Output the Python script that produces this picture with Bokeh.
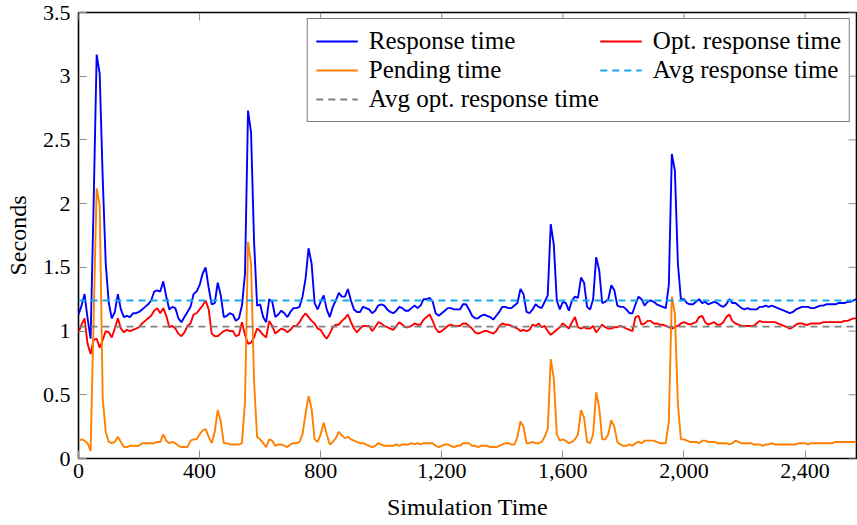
import math
from bokeh.plotting import figure
from bokeh.models import Range1d, FixedTicker, NumeralTickFormatter, Legend, LegendItem
from bokeh.embed import file_html
from bokeh.resources import INLINE

# ---------------- data ----------------
sim_time = list(range(0, 2580, 10))

response_time = [
    1.13, 1.20, 1.29, 1.10, 0.94, 2.00, 3.17, 3.02, 2.20, 1.53,
    1.22, 1.10, 1.15, 1.29, 1.17, 1.11, 1.12, 1.11, 1.14, 1.14,
    1.15, 1.17, 1.19, 1.21, 1.24, 1.31, 1.32, 1.31, 1.39, 1.27,
    1.17, 1.19, 1.18, 1.10, 1.07, 1.11, 1.15, 1.19, 1.29, 1.31,
    1.36, 1.45, 1.50, 1.34, 1.21, 1.22, 1.38, 1.28, 1.11, 1.12,
    1.14, 1.13, 1.08, 1.10, 1.20, 1.45, 2.73, 2.56, 1.70, 1.20,
    1.21, 1.11, 1.07, 1.25, 1.23, 1.11, 1.13, 1.16, 1.14, 1.11,
    1.15, 1.18, 1.18, 1.19, 1.27, 1.41, 1.65, 1.53, 1.22, 1.17,
    1.23, 1.28, 1.17, 1.11, 1.19, 1.24, 1.30, 1.27, 1.27, 1.33,
    1.24, 1.17, 1.15, 1.15, 1.19, 1.18, 1.17, 1.14, 1.16, 1.20,
    1.21, 1.20, 1.17, 1.15, 1.14, 1.16, 1.19, 1.18, 1.16, 1.16,
    1.18, 1.20, 1.18, 1.20, 1.25, 1.25, 1.26, 1.23, 1.14, 1.12,
    1.14, 1.16, 1.18, 1.18, 1.17, 1.17, 1.17, 1.21, 1.21, 1.17,
    1.12, 1.10, 1.10, 1.12, 1.13, 1.12, 1.11, 1.09, 1.12, 1.15,
    1.19, 1.19, 1.18, 1.18, 1.20, 1.22, 1.33, 1.29, 1.15, 1.14,
    1.17, 1.21, 1.19, 1.18, 1.23, 1.28, 1.84, 1.68, 1.24, 1.17,
    1.23, 1.22, 1.16, 1.24, 1.27, 1.26, 1.42, 1.38, 1.19, 1.17,
    1.25, 1.58, 1.48, 1.22, 1.23, 1.25, 1.36, 1.32, 1.20, 1.19,
    1.19, 1.17, 1.14, 1.14, 1.21, 1.27, 1.25, 1.20, 1.23, 1.24,
    1.23, 1.21, 1.20, 1.19, 1.18, 1.36, 2.39, 2.26, 1.53, 1.25,
    1.25, 1.22, 1.21, 1.21, 1.23, 1.25, 1.22, 1.23, 1.21, 1.22,
    1.23, 1.22, 1.20, 1.19, 1.21, 1.25, 1.22, 1.22, 1.20, 1.18,
    1.17, 1.18, 1.17, 1.17, 1.17, 1.19, 1.19, 1.20, 1.19, 1.20,
    1.19, 1.18, 1.17, 1.16, 1.15, 1.14, 1.15, 1.17, 1.18, 1.19,
    1.19, 1.19, 1.18, 1.18, 1.19, 1.20, 1.20, 1.21, 1.21, 1.21,
    1.21, 1.22, 1.22, 1.22, 1.23, 1.23, 1.24, 1.25,
]

opt_response_time = [
    0.99, 1.05, 1.10, 0.90, 0.82, 0.93, 0.94, 0.87, 0.93, 1.00,
    0.99, 0.95, 1.02, 1.10, 1.02, 0.99, 1.01, 1.00, 1.01, 1.02,
    1.03, 1.06, 1.08, 1.10, 1.12, 1.16, 1.18, 1.14, 1.18, 1.12,
    1.03, 1.04, 1.02, 0.98, 0.96, 0.99, 1.04, 1.06, 1.13, 1.14,
    1.17, 1.20, 1.24, 1.17, 0.98, 0.96, 0.96, 0.98, 1.00, 1.01,
    1.00, 1.00, 0.96, 0.97, 1.07, 0.97, 0.90, 0.91, 0.95, 1.02,
    1.00, 0.97, 0.95, 1.08, 1.04, 0.98, 1.00, 1.02, 1.01, 0.99,
    1.01, 1.04, 1.04, 1.07, 1.11, 1.14, 1.11, 1.08, 1.06, 1.02,
    1.01, 0.97, 0.94, 0.98, 1.03, 1.05, 1.05, 1.08, 1.10, 1.13,
    1.07, 1.02, 0.99, 1.02, 1.04, 1.04, 1.04, 1.00, 1.03, 1.07,
    1.06, 1.04, 1.03, 1.02, 1.01, 1.04, 1.07, 1.05, 1.03, 1.03,
    1.04, 1.06, 1.05, 1.05, 1.09, 1.11, 1.13, 1.08, 1.02, 0.99,
    1.00, 1.02, 1.04, 1.05, 1.04, 1.04, 1.04, 1.06, 1.06, 1.04,
    1.02, 0.99, 0.98, 0.99, 1.00, 1.00, 0.99, 0.98, 1.00, 1.04,
    1.06, 1.05, 1.05, 1.04, 1.03, 1.02, 1.00, 1.01, 1.00, 1.01,
    1.05, 1.04, 1.06, 1.03, 1.04, 1.00, 0.97, 0.99, 1.01, 1.03,
    1.06, 1.04, 1.02, 1.07, 1.11, 1.03, 1.02, 1.03, 1.02, 1.02,
    1.04, 0.99, 1.02, 1.05, 1.03, 1.02, 1.02, 1.03, 1.03, 1.04,
    1.03, 1.02, 1.01, 1.00, 1.11, 1.12, 1.05, 1.06, 1.08, 1.08,
    1.06, 1.06, 1.05, 1.05, 1.04, 1.03, 1.02, 1.03, 1.04, 1.06,
    1.07, 1.06, 1.05, 1.06, 1.07, 1.11, 1.12, 1.07, 1.05, 1.06,
    1.07, 1.05, 1.05, 1.07, 1.11, 1.13, 1.08, 1.06, 1.05, 1.04,
    1.04, 1.04, 1.04, 1.04, 1.06, 1.08, 1.07, 1.07, 1.07, 1.07,
    1.07, 1.06, 1.05, 1.04, 1.03, 1.02, 1.03, 1.05, 1.06, 1.06,
    1.05, 1.05, 1.06, 1.06, 1.06, 1.06, 1.07, 1.07, 1.07, 1.07,
    1.07, 1.07, 1.07, 1.08, 1.08, 1.09, 1.10, 1.10,
]

pending_time = [
    0.14, 0.15, 0.14, 0.12, 0.06, 1.10, 2.12, 1.99, 0.47, 0.21,
    0.13, 0.12, 0.13, 0.17, 0.13, 0.09, 0.09, 0.10, 0.10, 0.10,
    0.10, 0.12, 0.12, 0.12, 0.12, 0.12, 0.13, 0.13, 0.19, 0.14,
    0.12, 0.13, 0.12, 0.10, 0.09, 0.09, 0.09, 0.14, 0.15, 0.15,
    0.19, 0.22, 0.23, 0.17, 0.12, 0.21, 0.38, 0.29, 0.12, 0.12,
    0.11, 0.11, 0.11, 0.11, 0.12, 0.45, 1.70, 1.53, 0.60, 0.17,
    0.15, 0.12, 0.09, 0.15, 0.14, 0.10, 0.11, 0.11, 0.10, 0.09,
    0.11, 0.12, 0.12, 0.13, 0.19, 0.35, 0.49, 0.39, 0.15, 0.13,
    0.19, 0.28, 0.19, 0.11, 0.13, 0.16, 0.21, 0.18, 0.16, 0.17,
    0.15, 0.14, 0.13, 0.12, 0.12, 0.11, 0.10, 0.09, 0.10, 0.12,
    0.11, 0.10, 0.10, 0.10, 0.10, 0.11, 0.10, 0.11, 0.11, 0.11,
    0.12, 0.11, 0.12, 0.11, 0.12, 0.12, 0.12, 0.12, 0.10, 0.09,
    0.10, 0.11, 0.11, 0.10, 0.09, 0.10, 0.10, 0.12, 0.12, 0.12,
    0.10, 0.10, 0.09, 0.10, 0.10, 0.10, 0.09, 0.09, 0.09, 0.10,
    0.11, 0.12, 0.12, 0.11, 0.11, 0.17, 0.29, 0.25, 0.12, 0.12,
    0.13, 0.12, 0.12, 0.13, 0.17, 0.23, 0.78, 0.63, 0.19, 0.14,
    0.15, 0.14, 0.12, 0.13, 0.15, 0.19, 0.38, 0.32, 0.13, 0.12,
    0.19, 0.52, 0.40, 0.15, 0.15, 0.19, 0.30, 0.25, 0.13, 0.11,
    0.10, 0.10, 0.11, 0.10, 0.12, 0.13, 0.12, 0.14, 0.14, 0.14,
    0.14, 0.13, 0.12, 0.12, 0.12, 0.29, 1.27, 1.14, 0.43, 0.15,
    0.15, 0.14, 0.13, 0.13, 0.13, 0.12, 0.14, 0.14, 0.13, 0.13,
    0.13, 0.12, 0.12, 0.12, 0.12, 0.11, 0.12, 0.14, 0.13, 0.12,
    0.12, 0.12, 0.12, 0.11, 0.11, 0.11, 0.10, 0.11, 0.11, 0.12,
    0.11, 0.11, 0.11, 0.11, 0.11, 0.11, 0.11, 0.11, 0.12, 0.12,
    0.12, 0.11, 0.12, 0.12, 0.12, 0.12, 0.12, 0.12, 0.12, 0.12,
    0.13, 0.13, 0.13, 0.13, 0.13, 0.13, 0.13, 0.13,
]

avg_response_time = 1.24
avg_opt_response_time = 1.035

x_ticks = [0, 400, 800, 1200, 1600, 2000, 2400]
y_ticks = [0, 0.5, 1, 1.5, 2, 2.5, 3, 3.5]
x_max = 2570
y_max = 3.5

# ---------------- figure ----------------
FONT = "Liberation Serif"
TICK_COLOR = "#8c8c8c"
TICK_LEN = 8

p = figure(width=857, height=525, output_backend="svg", toolbar_location=None,
           x_range=Range1d(0, x_max), y_range=Range1d(0, y_max),
           min_border_left=78, min_border_right=1, min_border_top=12,
           min_border_bottom=67)
p.xgrid.visible = False
p.ygrid.visible = False
p.outline_line_color = "black"
p.outline_line_width = 1.6
p.background_fill_color = "white"
p.border_fill_color = "white"

def style_axis(ax, ticks, fmt):
    ax.ticker = FixedTicker(ticks=ticks)
    ax.formatter = NumeralTickFormatter(format=fmt)
    ax.axis_line_color = None
    ax.major_tick_in = TICK_LEN
    ax.major_tick_out = 0
    ax.major_tick_line_color = TICK_COLOR
    ax.major_tick_line_width = 1
    ax.minor_tick_line_color = None
    ax.major_label_text_font = FONT
    ax.major_label_text_color = "black"
    ax.major_label_text_font_size = "22px"
    ax.axis_label_text_font = FONT
    ax.axis_label_text_font_size = "24px"
    ax.axis_label_text_font_style = "normal"
    ax.axis_label_text_color = "black"

style_axis(p.xaxis[0], x_ticks, "0,0")
style_axis(p.yaxis[0], y_ticks, "0.[0]")
p.xaxis[0].major_label_standoff = 5
p.yaxis[0].major_label_standoff = 8
p.xaxis[0].axis_label = "Simulation Time"
p.yaxis[0].axis_label = "Seconds"
p.xaxis[0].axis_label_standoff = 13
p.yaxis[0].axis_label_standoff = 9

# inner tick marks on the top and right borders (mirrored ticks, no labels)
p.ray(x=x_ticks, y=[y_max] * len(x_ticks), length=TICK_LEN, length_units="screen",
      angle=-math.pi / 2, line_color=TICK_COLOR, line_width=1)
p.ray(x=[x_max] * len(y_ticks), y=y_ticks, length=TICK_LEN, length_units="screen",
      angle=math.pi, line_color=TICK_COLOR, line_width=1)

LW = 1.9
r_resp = p.line(sim_time, response_time, line_color="#0000ff", line_width=LW)
r_opt = p.line(sim_time, opt_response_time, line_color="#ff0000", line_width=LW)
r_pend = p.line(sim_time, pending_time, line_color="#ff8000", line_width=LW)
r_avg = p.line(sim_time, [avg_response_time] * len(sim_time), line_color="#14aaeb",
               line_width=LW, line_dash="7 5")
r_avg_opt = p.line(sim_time, [avg_opt_response_time] * len(sim_time), line_color="#808080",
                   line_width=LW, line_dash="7 5")

legend = Legend(items=[
    LegendItem(label="Response time", renderers=[r_resp]),
    LegendItem(label="Opt. response time", renderers=[r_opt]),
    LegendItem(label="Pending time", renderers=[r_pend]),
    LegendItem(label="Avg response time", renderers=[r_avg]),
    LegendItem(label="Avg opt. response time", renderers=[r_avg_opt]),
])
legend.location = "top_right"
legend.orientation = "horizontal"
legend.ncols = 2
legend.margin = 6
legend.padding = 8
legend.spacing = 1
legend.glyph_width = 42
legend.glyph_height = 26
legend.label_height = 26
legend.label_standoff = 11
legend.label_text_font = FONT
legend.label_text_font_size = "25px"
legend.label_text_color = "black"
legend.border_line_color = "black"
legend.border_line_width = 1.5
legend.background_fill_color = "white"
legend.background_fill_alpha = 1.0
p.add_layout(legend)

open("out.html", "w").write(file_html(p, INLINE))
